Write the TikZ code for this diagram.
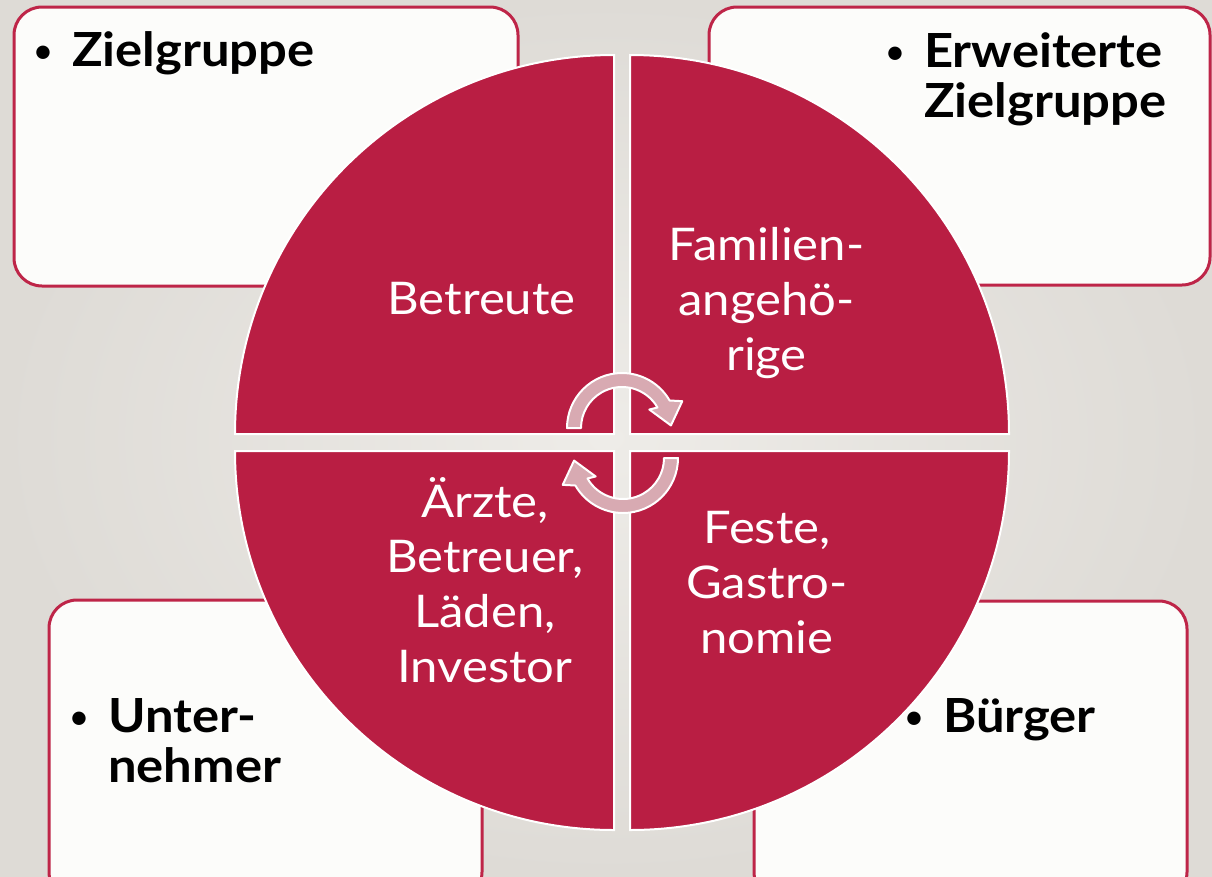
\documentclass[tikz,border=0pt]{standalone}
\usepackage{fontspec}
\setmainfont{Lato}
\newfontfamily\quadfont{Lato}[FakeStretch=1.09]
\newfontfamily\boxfont{Lato}[FakeStretch=1.08]
\definecolor{crim}{HTML}{B91E43}
\definecolor{boxline}{HTML}{BE2548}
\definecolor{boxfill}{HTML}{FCFCFA}
\definecolor{bgin}{HTML}{EEECE8}
\definecolor{bgout}{HTML}{DEDBD6}
\definecolor{arrowpink}{HTML}{D8AAB2}
\tikzset{
  boxsty/.style={draw=boxline, line width=3pt, fill=boxfill, rounded corners=28pt},
  quadsty/.style={fill=crim, draw=white, line width=2pt},
  cycarrow/.style={fill=arrowpink, draw=white, line width=2pt, line join=round},
  quadtext/.style={text=white, inner sep=0pt, font=\quadfont\fontsize{45}{55}\selectfont},
  boxtext/.style={text=black, inner sep=0pt, font=\boxfont\fontsize{47}{50}\selectfont\bfseries},
  bulletsty/.style={text=black, inner sep=0pt, font=\fontsize{36}{40}\selectfont, anchor=base}
}
\begin{document}
\begin{tikzpicture}[x=1pt,y=-1pt]
\useasboundingbox (0,0) rectangle (1212,876);
\shade[inner color=bgin, outer color=bgout] (0,0) rectangle (1212,876);

% boxes
\path[boxsty] (14,7) rectangle (518,286);
\path[boxsty] (709,7) rectangle (1210,285);
\path[boxsty] (49,600) rectangle (482,900);
\path[boxsty] (754,601) rectangle (1187,900);

% quadrants
\path[quadsty] (614,434) -- (235,434) arc[start angle=180, end angle=270, radius=379] -- cycle;
\path[quadsty] (630,434) -- (630,55) arc[start angle=270, end angle=360, radius=379] -- cycle;
\path[quadsty] (630,451) -- (1009,451) arc[start angle=0, end angle=90, radius=379] -- cycle;
\path[quadsty] (614,451) -- (614,830) arc[start angle=90, end angle=180, radius=379] -- cycle;

% circular arrows
\begin{scope}[shift={(622,428)}]
\path[cycarrow] (180:55) arc[start angle=180, end angle=330, radius=55] -- (336:66) -- (357:49) -- (326:33) -- (330:41) arc[start angle=330, end angle=180, radius=41] -- cycle;
\end{scope}
\begin{scope}[shift={(623,458)}]
\path[cycarrow] (0:55) arc[start angle=0, end angle=150, radius=55] -- (156:66) -- (177:49) -- (146:33) -- (150:41) arc[start angle=150, end angle=0, radius=41] -- cycle;
\end{scope}

% quadrant texts
\node[quadtext, anchor=base] (q1) at (481.5,314) {Betreute};
\node[quadtext, anchor=base] (q2) at (766.5,260) {\begin{tabular}[t]{@{}c@{}}Familien-\\angehö-\\rige\end{tabular}};
\node[quadtext, anchor=base] (q3) at (485,517) {\begin{tabular}[t]{@{}c@{}}Ärzte,\\Betreuer,\\Läden,\\Investor\end{tabular}};
\node[quadtext, anchor=base] (q4) at (767,543) {\begin{tabular}[t]{@{}c@{}}Feste,\\Gastro-\\nomie\end{tabular}};

% box texts
\node[bulletsty] (b1) at (43,63) {•};
\node[boxtext, anchor=base west] (t1) at (72,66) {Zielgruppe};
\node[bulletsty] (b2) at (895,64) {•};
\node[boxtext, anchor=base west] (t2) at (924,67) {\begin{tabular}[t]{@{}l@{}}Erweiterte\\Zielgruppe\end{tabular}};
\node[bulletsty] (b3) at (79,729) {•};
\node[boxtext, anchor=base west] (t3) at (108,732) {\begin{tabular}[t]{@{}l@{}}Unter-\\nehmer\end{tabular}};
\node[bulletsty] (b4) at (914,729) {•};
\node[boxtext, anchor=base west] (t4) at (943,732) {Bürger};
\end{tikzpicture}
\end{document}
